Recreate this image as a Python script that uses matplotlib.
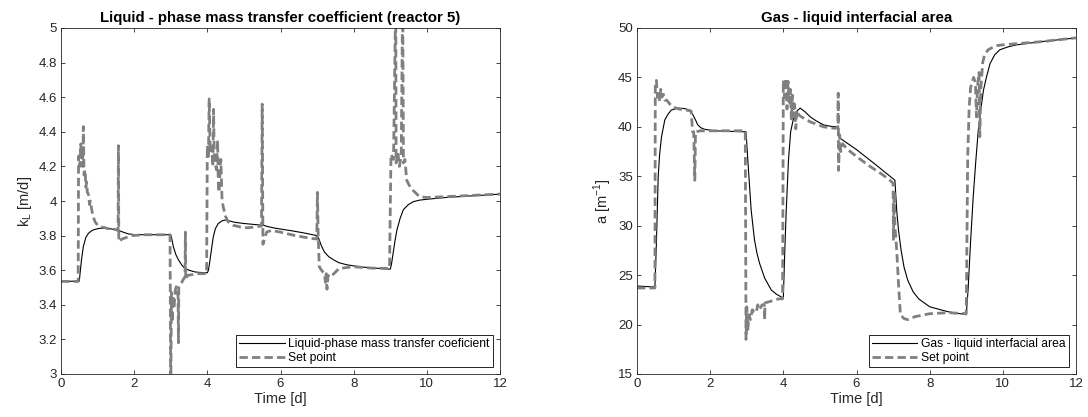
import matplotlib
matplotlib.use("Agg")
import matplotlib.pyplot as plt

plt.rcParams['font.family'] = ['Liberation Sans', 'DejaVu Sans']

# kL - simulated (solid)
t_kl = [0, 0.5, 0.52, 0.56, 0.61, 0.68, 0.75, 0.85, 0.93, 1.05, 1.2, 1.4, 1.57, 1.7, 1.84,
        2.0, 2.2, 2.6, 3.0, 3.03, 3.07, 3.14, 3.21, 3.3, 3.39, 3.5, 3.66, 3.8, 4.0, 4.03,
        4.06, 4.1, 4.16, 4.22, 4.3, 4.4, 4.48, 4.6, 4.75, 5.0, 5.25, 5.48, 5.5, 5.52, 5.6,
        5.8, 6.0, 6.3, 6.6, 7.0, 7.05, 7.12, 7.2, 7.32, 7.45, 7.6, 7.8, 8.0, 8.3, 8.6, 9.0,
        9.03, 9.08, 9.13, 9.18, 9.27, 9.36, 9.5, 9.63, 9.8, 10.0, 10.5, 11.0, 11.5, 12.0]
kl = [3.535, 3.537, 3.58, 3.66, 3.736, 3.79, 3.813, 3.83, 3.836, 3.842, 3.842, 3.838, 3.83,
      3.82, 3.81, 3.806, 3.805, 3.805, 3.805, 3.78, 3.736, 3.69, 3.66, 3.63, 3.61, 3.60,
      3.59, 3.587, 3.585, 3.60, 3.64, 3.70, 3.79, 3.84, 3.87, 3.885, 3.89, 3.885, 3.877,
      3.87, 3.865, 3.86, 3.872, 3.862, 3.855, 3.845, 3.838, 3.828, 3.817, 3.80, 3.78, 3.74,
      3.705, 3.678, 3.66, 3.643, 3.632, 3.625, 3.617, 3.612, 3.606,
      3.63, 3.70, 3.77, 3.83, 3.90, 3.95, 3.98, 3.996, 4.005, 4.01, 4.02, 4.027, 4.033, 4.04]

# kL - set point (dashed)
t_kl_sp = [0, 0.47, 0.48, 0.52, 0.54, 0.56, 0.58, 0.60, 0.61, 0.63, 0.66, 0.68, 0.70, 0.72,
           0.75, 0.78, 0.80, 0.84, 0.88, 0.93, 1.0, 1.11, 1.3, 1.48, 1.56, 1.57, 1.58, 1.62,
           1.66, 1.8, 1.93, 2.3, 2.98, 3.0, 3.02, 3.04, 3.06, 3.09, 3.12, 3.15, 3.2, 3.21,
           3.22, 3.28, 3.35, 3.39, 3.40, 3.41, 3.46, 3.6, 3.73, 3.98, 4.0, 4.03, 4.05, 4.08,
           4.12, 4.15, 4.17, 4.19, 4.21, 4.25, 4.28, 4.30, 4.32, 4.35, 4.37, 4.40, 4.43, 4.5,
           4.57, 4.7, 4.9, 5.1, 5.3, 5.48, 5.5, 5.52, 5.56, 5.62, 5.75, 6.0, 6.4, 6.8, 6.99,
           7.01, 7.03, 7.06, 7.12, 7.2, 7.23, 7.25, 7.27, 7.3, 7.36, 7.46, 7.6, 8.0, 8.5, 8.98,
           9.02, 9.09, 9.15, 9.16, 9.21, 9.25, 9.3, 9.34, 9.36, 9.4, 9.45, 9.52, 9.63, 9.8,
           10.0, 10.5, 11.0, 11.5, 12.0]
kl_sp = [3.535, 3.535, 4.26, 4.20, 4.33, 4.25, 4.30, 4.20, 4.43, 4.15, 4.18, 4.08, 4.11, 4.05,
         4.04, 3.98, 4.00, 3.95, 3.91, 3.88, 3.86, 3.85, 3.84, 3.836, 3.83, 4.32, 3.765, 3.77,
         3.78, 3.79, 3.80, 3.805, 3.805, 2.9, 3.47, 3.30, 3.45, 3.38, 3.48, 3.505, 3.45, 3.18,
         3.50, 3.52, 3.55, 3.56, 3.82, 3.55, 3.57, 3.575, 3.58, 3.58, 4.32, 4.25, 4.59, 4.28,
         4.31, 4.20, 4.53, 4.25, 4.22, 4.18, 4.35, 4.10, 4.05, 4.20, 4.24, 4.02, 3.97, 3.91,
         3.88, 3.86, 3.85, 3.845, 3.85, 3.855, 4.56, 3.75, 3.78, 3.82, 3.83, 3.82, 3.80, 3.785,
         3.78, 4.05, 3.80, 3.62, 3.60, 3.58, 3.53, 3.58, 3.49, 3.57, 3.56, 3.58, 3.61, 3.62,
         3.612, 3.61, 4.27, 4.24, 5.2, 4.22, 4.28, 4.20, 4.26, 5.2, 4.22, 4.24, 4.12, 4.09,
         4.06, 4.025, 4.02, 4.025, 4.03, 4.035, 4.04]

# a - simulated (solid)
t_a = [0, 0.49, 0.53, 0.58, 0.62, 0.67, 0.76, 0.85, 0.94, 1.12, 1.3, 1.44, 1.53, 1.6, 1.66,
       1.75, 1.85, 2.12, 2.5, 2.98, 3.03, 3.08, 3.12, 3.21, 3.28, 3.35, 3.49, 3.67, 3.8, 3.94,
       4.0, 4.04, 4.08, 4.14, 4.2, 4.28, 4.37, 4.46, 4.6, 4.74, 4.9, 5.1, 5.3, 5.48, 5.52,
       5.57, 6.0, 6.55, 7.05, 7.1, 7.15, 7.22, 7.3, 7.4, 7.55, 7.7, 8.0, 8.5, 9.0, 9.05, 9.12,
       9.19, 9.26, 9.33, 9.4, 9.47, 9.55, 9.65, 9.78, 9.92, 10.15, 10.38, 11.0, 12.0]
a = [23.9, 23.8, 28.2, 35.0, 37.3, 39.0, 40.7, 41.3, 41.7, 41.9, 41.85, 41.7, 41.2, 40.7, 40.2,
     39.9, 39.75, 39.6, 39.55, 39.5, 36.6, 33.8, 31.6, 28.6, 27.2, 26.2, 24.7, 23.5, 23.1, 22.8,
     22.7, 27.5, 31.6, 36.6, 39.5, 40.9, 41.6, 41.9, 41.5, 41.0, 40.6, 40.2, 40.05, 40.0, 39.2,
     38.8, 37.7, 36.1, 34.6, 31.5, 29.5, 27.5, 25.8, 24.5, 23.3, 22.6, 21.8, 21.3, 21.0, 23.5,
     28.5, 32.9, 36.5, 39.7, 41.8, 43.7, 45.0, 46.4, 47.3, 47.8, 48.1, 48.3, 48.6, 49.0]

# a - set point (dashed)
t_a_sp = [0, 0.49, 0.50, 0.53, 0.56, 0.59, 0.62, 0.65, 0.68, 0.72, 0.76, 0.81, 0.9, 0.99, 1.15,
          1.35, 1.48, 1.52, 1.55, 1.58, 1.6, 1.73, 2.5, 2.96, 2.98, 3.0, 3.03, 3.06, 3.1, 3.15,
          3.2, 3.26, 3.3, 3.35, 3.42, 3.48, 3.49, 3.5, 3.6, 3.87, 3.98, 4.0, 4.04, 4.07, 4.1,
          4.13, 4.16, 4.19, 4.22, 4.25, 4.28, 4.31, 4.34, 4.37, 4.42, 4.5, 4.74, 5.1, 5.42, 5.49,
          5.5, 5.51, 5.54, 5.57, 5.62, 5.73, 6.0, 6.37, 6.7, 6.91, 7.0, 7.01, 7.03, 7.05, 7.1,
          7.15, 7.2, 7.3, 7.4, 7.6, 8.0, 8.5, 9.0, 9.04, 9.08, 9.12, 9.2, 9.25, 9.28, 9.31, 9.35,
          9.37, 9.4, 9.45, 9.5, 9.6, 9.8, 10.0, 11.0, 12.0]
a_sp = [23.7, 23.7, 44.4, 44.7, 43.0, 43.6, 42.6, 43.8, 43.0, 43.3, 42.7, 42.7, 42.3, 42.0, 41.8,
        41.7, 41.6, 39.5, 39.5, 34.6, 39.5, 39.6, 39.6, 39.6, 18.5, 21.8, 19.5, 21.0, 20.5, 21.5,
        21.3, 21.2, 22.0, 21.5, 22.0, 22.0, 20.5, 22.2, 22.3, 22.6, 22.6, 44.7, 43.0, 44.9, 41.8,
        44.6, 42.5, 43.8, 40.8, 43.2, 41.0, 42.3, 39.8, 41.7, 41.2, 41.0, 40.5, 40.0, 39.85, 40.0,
        43.4, 35.6, 39.2, 37.5, 38.3, 37.8, 37.0, 36.0, 35.2, 34.6, 34.3, 28.5, 33.5, 30.0, 27.5,
        24.0, 21.0, 20.6, 20.5, 20.8, 21.1, 21.2, 21.1, 37.0, 42.0, 44.0, 45.0, 44.5, 41.0, 44.2,
        45.5, 39.0, 44.0, 46.5, 47.3, 47.8, 48.2, 48.3, 48.6, 49.0]

dark = (0.15, 0.15, 0.15)
grey = (0.5, 0.5, 0.5)

fig = plt.figure(figsize=(10.88, 4.17), dpi=100)
ax1 = fig.add_axes([61 / 1088, 43 / 417, 439 / 1088, 346 / 417])
ax2 = fig.add_axes([637 / 1088, 43 / 417, 439 / 1088, 346 / 417])

ax1.plot(t_kl, kl, color='k', lw=0.8, label='Liquid-phase mass transfer coeficient')
ax1.plot(t_kl_sp, kl_sp, color=grey, lw=2, dashes=(3, 1.5), label='Set point')
ax1.set_ylim(3, 5)
ax1.set_yticks([3, 3.2, 3.4, 3.6, 3.8, 4, 4.2, 4.4, 4.6, 4.8, 5])
ax1.set_yticklabels(['3', '3.2', '3.4', '3.6', '3.8', '4', '4.2', '4.4', '4.6', '4.8', '5'])
ax1.set_ylabel('k$_\\mathregular{L}$ [m/d]', fontsize=10.5, color=dark, labelpad=3)
ax1.set_title('Liquid - phase mass transfer coefficient (reactor 5)', fontsize=10.8,
              fontweight='bold', pad=4)

ax2.plot(t_a, a, color='k', lw=0.8, label='Gas - liquid interfacial area')
ax2.plot(t_a_sp, a_sp, color=grey, lw=2, dashes=(3, 1.5), label='Set point')
ax2.set_ylim(15, 50)
ax2.set_yticks([15, 20, 25, 30, 35, 40, 45, 50])
ax2.set_ylabel('a [m$^{\\mathregular{-1}}$]', fontsize=10.5, color=dark, labelpad=3)
ax2.set_title('Gas - liquid interfacial area', fontsize=10.8, fontweight='bold', pad=4)

for ax in (ax1, ax2):
    ax.set_xlim(0, 12)
    ax.set_xticks([0, 2, 4, 6, 8, 10, 12])
    ax.set_xlabel('Time [d]', fontsize=10.5, color=dark, labelpad=1)
    ax.tick_params(direction='in', top=True, right=True, length=3, width=0.6,
                   labelsize=9.5, colors=dark, pad=3)
    for sp in ax.spines.values():
        sp.set_linewidth(0.6)
        sp.set_color(dark)
    leg = ax.legend(loc='lower right', fontsize=8.7, handlelength=3.8, fancybox=False,
                    framealpha=1, edgecolor='k', borderpad=0.25, labelspacing=0.15,
                    handletextpad=0.3, borderaxespad=0.6)
    leg.get_frame().set_linewidth(0.6)

fig.savefig('out.png', dpi=100)
